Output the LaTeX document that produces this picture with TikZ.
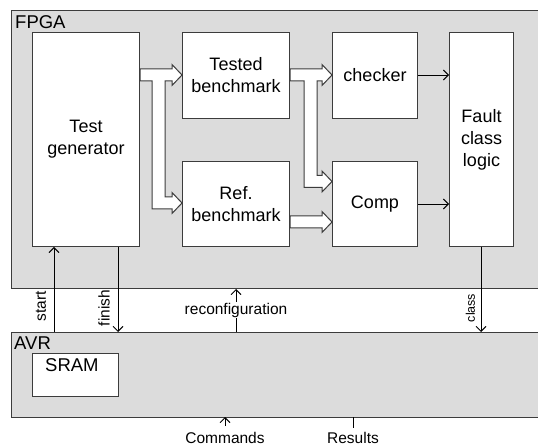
\documentclass[tikz,border=0pt]{standalone}
\usepackage{fontspec}
\setmainfont{Liberation Sans}
\usetikzlibrary{arrows.meta}
\definecolor{panel}{HTML}{DCDCDC}
\definecolor{edge}{HTML}{3C3C3C}
\tikzset{
  panelbox/.style={draw=edge, fill=panel, line width=1pt},
  block/.style={draw=edge, fill=white, line width=1pt, anchor=north west,
    inner sep=0pt, align=center, font=\fontsize{18}{22}\selectfont},
  fatarrow/.style={draw=edge, fill=white, line width=1pt, line join=miter},
  sig/.style={draw=black, line width=0.9pt, -{Straight Barb[length=5pt,width=10pt,line width=0.9pt]}},
  sigtext/.style={font=\fontsize{15.5}{18}\selectfont, inner sep=1pt},
  title/.style={font=\fontsize{18.5}{22}\selectfont, anchor=base west, inner sep=0pt},
}
\begin{document}
\begin{tikzpicture}[x=1pt,y=-1pt]
\clip (0,0) rectangle (538,446);
\fill[white] (0,0) rectangle (538,446);

% FPGA and AVR panels
\draw[panelbox] (11,11) rectangle (545,289);
\draw[panelbox] (11,332) rectangle (545,417);
\node[title] (fpga) at (15,28.5) {FPGA};
\node[title] (avr) at (14,349) {AVR};

% FPGA blocks
\node[block, minimum width=107, minimum height=214] (tg) at (32,32) {Test\\generator};
\node[block, minimum width=107, minimum height=86] (tb) at (182,32) {Tested\\benchmark};
\node[block, minimum width=107, minimum height=85] (rb) at (182,161) {Ref.\\benchmark};
\node[block, minimum width=85, minimum height=86] (chk) at (332,32) {checker};
\node[block, minimum width=85, minimum height=85] (cmp) at (332,161) {Comp};
\node[block, minimum width=64, minimum height=214] (fcl) at (449,32) {Fault\\class\\logic};

% AVR memory
\node[block, minimum width=86, minimum height=43] (sram) at (32,353) {};
\node[title] (sramt) at (45,371) {SRAM};

% Wide data paths
\draw[fatarrow] (tg.east |- 0,69) -- (172,69) -- (172,64.5) -- (tb.west |- 0,75)
  -- (172,85.5) -- (172,81) -- (165,81) -- (165,197) -- (172,197) -- (172,192.5)
  -- (rb.west |- 0,203) -- (172,213.5) -- (172,209) -- (152,209) -- (152,81)
  -- (tg.east |- 0,81) -- cycle;
\draw[fatarrow] (tb.east |- 0,69) -- (322,69) -- (322,64.5) -- (chk.west |- 0,75)
  -- (322,85.5) -- (322,81) -- (317,81) -- (317,175.5) -- (322,175.5) -- (322,171)
  -- (cmp.west |- 0,181.5) -- (322,192) -- (322,187.5) -- (304,187.5) -- (304,81)
  -- (tb.east |- 0,81) -- cycle;
\draw[fatarrow] (rb.east |- 0,216) -- (322,216) -- (322,211.5) -- (cmp.west |- 0,222)
  -- (322,232.5) -- (322,228) -- (rb.east |- 0,228) -- cycle;

% Result signals into the fault classifier
\draw[sig] (chk.east |- 0,75) -- (fcl.west |- 0,75);
\draw[sig] (cmp.east |- 0,204) -- (fcl.west |- 0,204);

% Control signals between AVR and FPGA
\coordinate (xs) at (54,0);
\coordinate (xf) at (118,0);
\coordinate (xc) at (481,0);
\draw[sig] (xs |- 0,332) -- (xs |- tg.south);
\draw[sig] (xf |- tg.south) -- (xf |- 0,332);
\draw[sig] (xc |- fcl.south) -- (xc |- 0,332);
\coordinate (rbot) at (236,332);
\coordinate (rtop) at (236,289);
\draw[sig] (rbot) -- (rtop);
\node[sigtext, fill=white] (reconf) at (236,310) {reconfiguration};
\node[sigtext, rotate=90] (start) at (41,306) {start};
\node[sigtext, rotate=90] (finish) at (104,308) {finish};
\node[sigtext, rotate=90, font=\fontsize{12.5}{14}\selectfont] (cls) at (470.5,308) {class};

% External interface of the AVR
\node[sigtext] (cmds) at (225,438) {Commands};
\node[sigtext] (res) at (353,438) {Results};
\coordinate (cin) at (225,426);
\coordinate (rout) at (353,428);
\draw[sig] (cin) -- (cin |- 0,417);
\draw[line width=0.9pt, draw=black] (rout |- 0,417) -- (rout);
\end{tikzpicture}
\end{document}
